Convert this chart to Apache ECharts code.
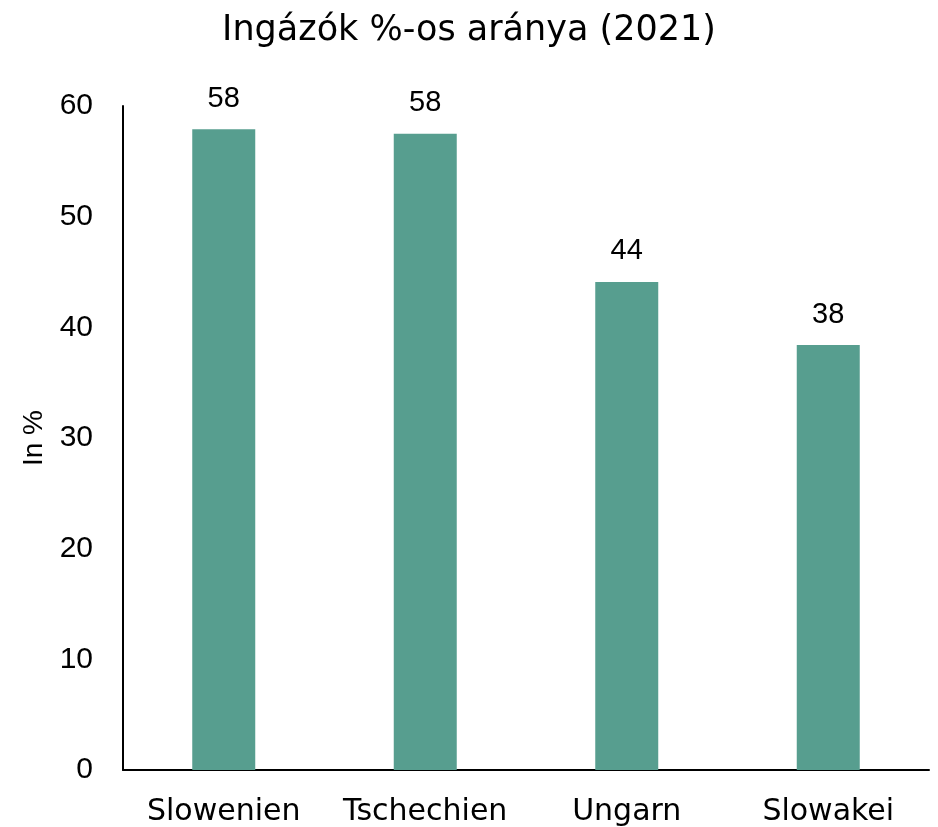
<!DOCTYPE html>
<html>
<head>
<meta charset="utf-8">
<script src="https://cdn.jsdelivr.net/npm/echarts@6/dist/echarts.min.js"></script>
<style>
  html, body { margin: 0; padding: 0; background: #fff; }
  #chart { width: 938px; height: 827px; }
</style>
</head>
<body>
<div id="chart"></div>
<script>
// data
const countries = ['Slowenien', 'Tschechien', 'Ungarn', 'Slowakei'];
const shares = [57.9, 57.5, 44.1, 38.4];
const yTicks = [0, 10, 20, 30, 40, 50, 60];

const chart = echarts.init(document.getElementById('chart'));

chart.setOption({
  animation: false,
  title: {
    text: 'Ingázók %-os aránya (2021)',
    left: 'center',
    top: 8,
    textStyle: {
      fontFamily: 'DejaVu Sans',
      fontWeight: 'normal',
      fontSize: 35,
      color: '#000'
    }
  },
  grid: {
    left: 123,
    right: 9,
    top: 106,
    bottom: 57
  },
  xAxis: {
    type: 'category',
    data: countries,
    axisLine: { lineStyle: { color: '#000', width: 2 } },
    axisTick: { show: false },
    axisLabel: {
      interval: 0,
      fontFamily: 'DejaVu Sans',
      fontSize: 30,
      color: '#000',
      margin: 27
    }
  },
  yAxis: {
    type: 'value',
    min: yTicks[0],
    max: yTicks[yTicks.length - 1],
    interval: 10,
    name: 'In %',
    nameLocation: 'middle',
    nameGap: 74,
    nameTextStyle: {
      fontFamily: 'Liberation Sans',
      fontSize: 28,
      color: '#000'
    },
    splitLine: { show: false },
    axisLine: { show: true, lineStyle: { color: '#000', width: 2 } },
    axisTick: { show: false },
    axisLabel: {
      fontFamily: 'Liberation Sans',
      fontSize: 30,
      color: '#000',
      margin: 30
    }
  },
  series: [{
    type: 'bar',
    data: shares,
    barWidth: 63,
    itemStyle: { color: '#579E8F' },
    label: {
      show: true,
      position: 'top',
      distance: 16,
      fontFamily: 'Liberation Sans',
      fontSize: 29,
      color: '#000',
      formatter: p => Math.round(p.value)
    }
  }]
});
</script>
</body>
</html>
